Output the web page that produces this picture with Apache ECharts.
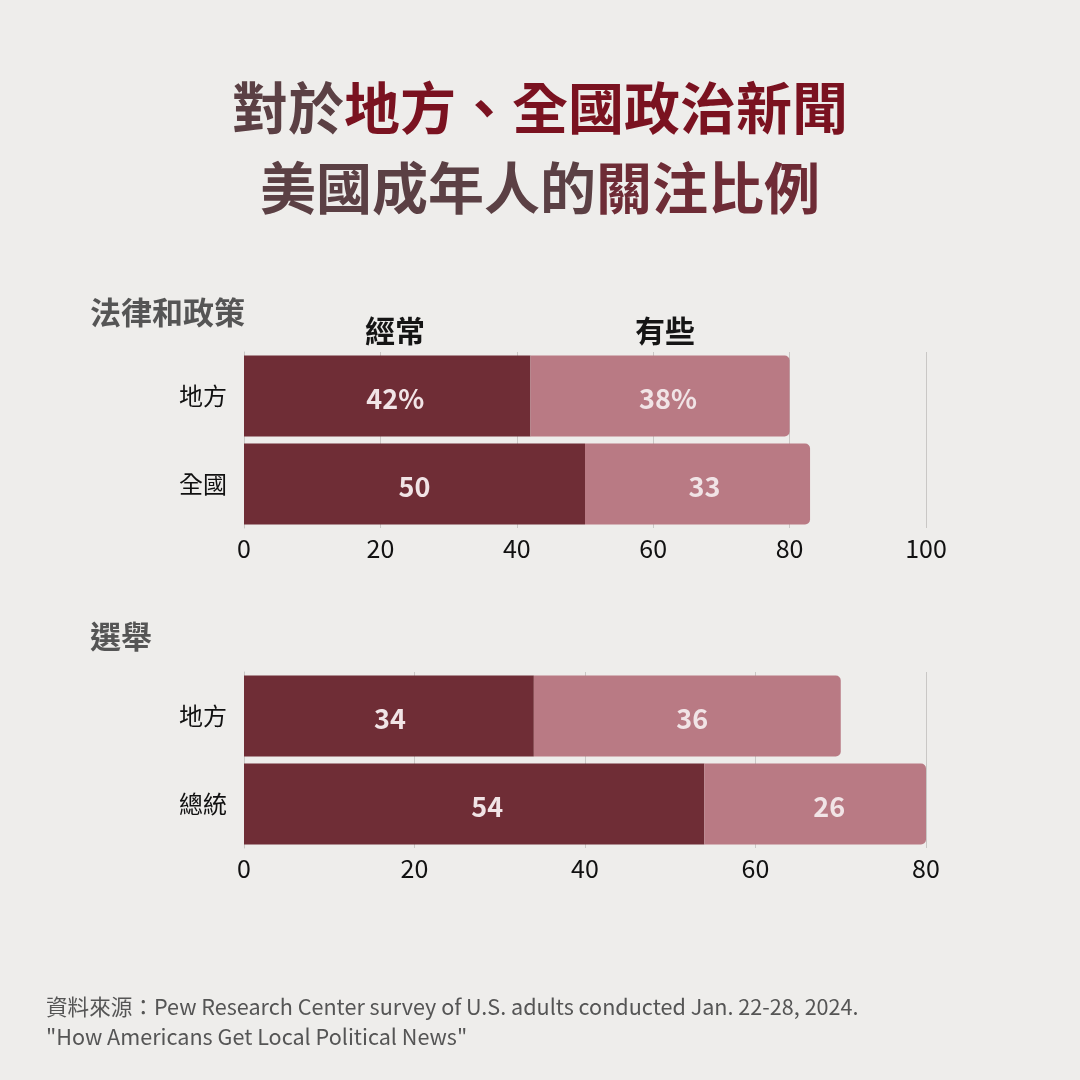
<!DOCTYPE html>
<html>
<head>
<meta charset="utf-8">
<script src="https://cdn.jsdelivr.net/npm/echarts@6/dist/echarts.min.js"></script>
<style>
  html, body { margin: 0; padding: 0; background: #eeedeb; }
  #chart { width: 1080px; height: 1080px; }
</style>
</head>
<body>
<div id="chart"></div>
<script>
// 資料
const policyCats = ['地方', '全國']
const policyOften = [42, 50]
const policySome = [38, 33]
const electionCats = ['地方', '總統']
const electionOften = [34, 54]
const electionSome = [36, 26]

// 標籤水平微調（像素）
const policyOftenShift = [8, 0]
const policySomeShift = [8, 7]
const electionOftenShift = [1, 13]
const electionSomeShift = [5, 14]

const FONT = '"Noto Sans CJK TC", "Noto Sans", sans-serif'
const DARK = '#6f2d36'
const LIGHT = '#b97a84'
const LABEL = '#f1e4e6'

const chart = echarts.init(document.getElementById('chart'))

function xAxis(gridIndex, max) {
    return {
        gridIndex,
        type: 'value',
        min: 0,
        max,
        interval: 20,
        axisLine: { show: false },
        axisTick: { show: false },
        axisLabel: { color: '#111', fontSize: 25, fontFamily: FONT, margin: 8 },
        splitLine: { show: true, lineStyle: { color: '#c9c7c5', width: 1 } }
    }
}

function yAxis(gridIndex, data) {
    return {
        gridIndex,
        type: 'category',
        data,
        inverse: true,
        axisLine: { show: true, lineStyle: { color: '#c9c7c5' } },
        axisTick: { show: false },
        axisLabel: { color: '#111', fontSize: 24, fontFamily: FONT, margin: 17 }
    }
}

function bar(idx, stack, values, shift, color, radius, pct) {
    return {
        type: 'bar',
        xAxisIndex: idx,
        yAxisIndex: idx,
        stack,
        data: values.map((v, i) => ({ value: v, label: { offset: [shift[i], 3] } })),
        barWidth: 81,
        itemStyle: { color, borderRadius: radius },
        label: {
            show: true,
            position: 'inside',
            color: LABEL,
            fontSize: 27,
            fontWeight: 'bold',
            fontFamily: FONT,
            formatter: p => p.value + (pct && p.dataIndex === 0 ? '%' : '')
        },
        silent: true,
        animation: false
    }
}

const option = {
    backgroundColor: '#eeedeb',
    title: [
        {
            text: '{a|對於}{b|地方、全國政治新聞}\n{c|美國成年人的}{d|關注比例}',
            left: 'center',
            top: 68,
            padding: 0,
            textStyle: {
                rich: {
                    a: { fontSize: 56, fontWeight: 'bold', color: '#5b4044', fontFamily: FONT, lineHeight: 80 },
                    b: { fontSize: 56, fontWeight: 'bold', color: '#7a1220', fontFamily: FONT, lineHeight: 80 },
                    c: { fontSize: 56, fontWeight: 'bold', color: '#5b4044', fontFamily: FONT, lineHeight: 80 },
                    d: { fontSize: 56, fontWeight: 'bold', color: '#6e2c36', fontFamily: FONT, lineHeight: 80 }
                }
            }
        },
        { text: '法律和政策', left: 90, top: 297, padding: 0, textStyle: { fontSize: 31, fontWeight: 'bold', color: '#555', fontFamily: FONT } },
        { text: '經常', left: 365, top: 316, padding: 0, textStyle: { fontSize: 30, fontWeight: 'bold', color: '#151515', fontFamily: FONT } },
        { text: '有些', left: 635, top: 316, padding: 0, textStyle: { fontSize: 30, fontWeight: 'bold', color: '#151515', fontFamily: FONT } },
        { text: '選舉', left: 90, top: 621, padding: 0, textStyle: { fontSize: 31, fontWeight: 'bold', color: '#555', fontFamily: FONT } },
        {
            text: '資料來源：Pew Research Center survey of U.S. adults conducted Jan. 22-28, 2024.\n"How Americans Get Local Political News"',
            left: 46,
            top: 992,
            padding: 0,
            textStyle: { fontSize: 21.6, fontWeight: 'normal', color: '#555', fontFamily: FONT, lineHeight: 30 }
        }
    ],
    grid: [
        { left: 244, width: 682, top: 352, height: 176 },
        { left: 244, width: 682, top: 672, height: 176 }
    ],
    xAxis: [xAxis(0, 100), xAxis(1, 80)],
    yAxis: [yAxis(0, policyCats), yAxis(1, electionCats)],
    series: [
        bar(0, 'p', policyOften, policyOftenShift, DARK, 0, true),
        bar(0, 'p', policySome, policySomeShift, LIGHT, [0, 5, 5, 0], true),
        bar(1, 'e', electionOften, electionOftenShift, DARK, 0, false),
        bar(1, 'e', electionSome, electionSomeShift, LIGHT, [0, 5, 5, 0], false)
    ]
}

chart.setOption(option)
</script>
</body>
</html>
